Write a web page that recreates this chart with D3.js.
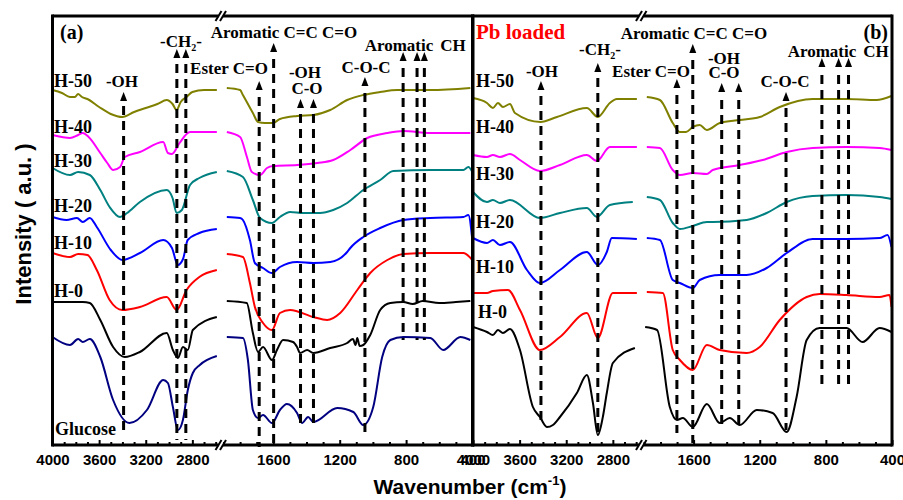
<!DOCTYPE html>
<html><head><meta charset="utf-8">
<script src="https://cdn.jsdelivr.net/npm/d3@7"></script>
<style>body{margin:0;background:#fff}svg{display:block}</style>
</head><body>
<svg id="c" width="903" height="500"></svg>
<script>
// ---------------- DATA (wavenumber cm-1, intensity a.u.) ----------------
const seriesNames = ["H-50","H-40","H-30","H-20","H-10","H-0","Glucose"];
const seriesColors = ["#808000","#ff00ff","#008080","#0000ff","#ff0000","#000000","#000080"];

const a_H50 = [[4000,355],[3919,352],[3850,348],[3807,348],[3781,351],[3747,348],[3700,346],[3600,338],[3500,331],[3400,328],[3300,333],[3200,337],[3100,341],[3020,345],[2970,341],[2935,335],[2900,343],[2850,348],[2800,353],[2700,355],[2590,355],
 [1880,357],[1800,355],[1783,350],[1723,332],[1692,323],[1650,322],[1602,322],[1560,326],[1457,329],[1359,330],[1257,335],[1155,345],[1058,350],[956,353],[853,355],[654,355],[413,357]];
const a_H40 = [[4000,310],[3920,308],[3850,307],[3780,310],[3740,312],[3690,308],[3590,292],[3530,282],[3480,275],[3420,278],[3380,288],[3250,293],[3050,303],[3010,292],[2975,291],[2910,302],[2820,313],[2590,313],
 [1880,313],[1800,308],[1759,288],[1729,273],[1680,270],[1638,277],[1602,279],[1457,280],[1335,282],[1239,285],[1136,295],[1034,307],[913,312],[817,314],[654,312],[413,312]];
const a_H30 = [[4000,277],[3850,270],[3780,273],[3680,270],[3590,255],[3510,238],[3420,228],[3360,232],[3250,243],[3020,255],[2970,247],[2935,232],[2890,235],[2820,260],[2740,267],[2590,273],
 [1880,274],[1783,268],[1723,245],[1680,227],[1608,222],[1560,228],[1499,233],[1421,232],[1319,232],[1239,235],[1155,242],[1058,255],[956,265],[877,274],[654,275],[455,275],[425,278],[401,273]];
const a_H20 = [[4000,228],[3880,225],[3790,227],[3740,223],[3680,227],[3620,218],[3500,195],[3400,185],[3250,192],[3050,205],[2975,197],[2925,180],[2880,186],[2840,205],[2740,212],[2590,216],
 [1880,228],[1800,227],[1783,225],[1741,205],[1711,182],[1662,177],[1608,172],[1560,178],[1457,183],[1359,182],[1257,183],[1155,193],[1136,197],[1058,208],[956,217],[817,225],[654,227],[455,228],[425,230],[401,205]];
const a_H10 = [[4000,192],[3850,188],[3780,191],[3700,190],[3620,175],[3510,145],[3400,135],[3250,138],[3020,148],[2935,135],[2850,155],[2740,168],[2590,175],
 [1880,191],[1783,188],[1741,162],[1711,138],[1662,122],[1608,115],[1560,132],[1499,135],[1359,128],[1276,125],[1197,132],[1094,155],[1016,172],[913,185],[817,191],[654,192],[455,192],[401,185]];
const a_H0 = [[4000,143],[3740,143],[3680,142],[3590,125],[3480,98],[3380,88],[3250,93],[3020,112],[2967,95],[2924,87],[2881,98],[2839,95],[2796,115],[2590,128],
 [1880,144],[1760,142],[1723,112],[1692,93],[1662,98],[1608,85],[1578,95],[1541,105],[1481,103],[1457,98],[1439,92],[1396,95],[1359,92],[1257,97],[1155,102],[1120,106],[1105,100],[1094,107],[1080,99],[1058,100],[1016,110],[956,135],[895,142],[817,143],[760,141],[700,144],[600,142],[500,143],[413,144]];
const a_Glu = [[4000,108],[3850,100],[3780,106],[3740,103],[3680,106],[3590,88],[3480,45],[3340,22],[3190,35],[3050,65],[3010,62],[2967,38],[2924,15],[2881,25],[2839,55],[2796,72],[2736,80],[2590,89],
 [1880,108],[1783,107],[1753,85],[1723,35],[1692,27],[1662,30],[1608,22],[1560,35],[1518,41],[1457,32],[1427,22],[1390,28],[1359,23],[1215,37],[1118,33],[1058,20],[998,38],[944,88],[895,105],[817,108],[654,107],[576,95],[473,108],[413,105]];

const b_H50 = [[4000,347],[3880,342],[3829,337],[3786,342],[3743,338],[3683,341],[3640,332],[3421,323],[3280,328],[3023,337],[2929,328],[2826,342],[2766,346],[2594,346],
 [1883,348],[1804,345],[1726,322],[1683,313],[1646,313],[1605,318],[1563,320],[1520,315],[1442,322],[1321,325],[1200,328],[1079,338],[880,346],[675,346],[494,345],[403,349]];
const b_H40 = [[4000,290],[3880,288],[3829,290],[3769,288],[3683,291],[3597,285],[3426,274],[3254,280],[3023,290],[2937,284],[2826,298],[2594,298],
 [1883,298],[1804,297],[1726,275],[1683,270],[1605,272],[1520,271],[1484,275],[1321,280],[1182,285],[1037,293],[880,297],[675,298],[475,297],[403,295]];
const b_H30 = [[4000,253],[3880,243],[3829,245],[3769,242],[3683,245],[3426,227],[3254,232],[3023,237],[2937,228],[2826,240],[2629,243],
 [1883,248],[1804,245],[1726,222],[1683,216],[1605,219],[1520,223],[1484,223],[1279,225],[1158,232],[1037,243],[880,249],[675,250],[475,248],[403,246]];
const b_H20 = [[4000,207],[3880,202],[3829,205],[3769,200],[3683,203],[3537,175],[3426,162],[3254,175],[3023,193],[2929,180],[2852,193],[2809,207],[2594,206],
 [1883,207],[1804,205],[1726,165],[1683,162],[1605,157],[1563,165],[1442,170],[1279,170],[1158,177],[1037,192],[880,206],[675,206],[475,207],[427,210],[403,198]];
const b_H10 = [[4000,152],[3880,152],[3829,154],[3700,155],[3597,135],[3426,95],[3254,108],[3023,132],[2929,107],[2800,152],[2594,152],
 [1883,153],[1786,152],[1726,95],[1683,85],[1605,75],[1520,100],[1442,95],[1279,92],[1200,98],[1079,125],[916,148],[838,151],[675,150],[475,148],[415,150],[403,138]];
const b_H0 = [[4000,118],[3880,113],[3829,110],[3786,115],[3743,112],[3683,116],[3597,95],[3486,38],[3426,28],[3366,18],[3314,20],[3254,28],[3109,52],[3023,70],[2971,42],[2929,10],[2886,28],[2852,52],[2800,82],[2611,97],
 [1893,118],[1821,115],[1744,38],[1701,25],[1665,27],[1605,18],[1520,41],[1442,22],[1381,27],[1321,20],[1218,35],[1122,32],[1037,13],[977,48],[916,105],[838,117],[675,117],[578,103],[475,117],[403,113]];

const panelA = [a_H50,a_H40,a_H30,a_H20,a_H10,a_H0,a_Glu];
const panelB = [b_H50,b_H40,b_H30,b_H20,b_H10,b_H0];

const majorTicksLeft = [4000,3600,3200,2800];
const majorTicksRight = [1600,1200,800,400];

const bandWnA = [[3390],[2933,2856],[1685],[1598],[1436,1358],[1048],[818,734,690]];
const bandWnB = [[3417],[2929],[1701],[1605],[1430,1327],[1041],[824,723,663]];

// ---------------- LAYOUT ----------------
const svg = d3.select("#c");
const yTop = 16, yBase = 445;
const y = d3.scaleLinear().domain([0,429]).range([yBase,yTop]);

const annA = [
 {tri:97, top:106, bot:435, texts:[{t:"-OH",x:122,y:87}]},
 {tri:54, top:64, bot:440, texts:[{t:"CH2",x:181,y:47}]},
 {tri:86, top:97, bot:447, texts:[{t:"Ester C=O",x:229,y:74}]},
 {tri:48, top:59, bot:445, texts:[{t:"Aromatic C=C C=O",x:284,y:38}]},
 {tri:104, top:114, bot:428, texts:[{t:"-OH",x:305,y:78},{t:"C-O",x:307,y:94}]},
 {tri:82, top:93, bot:433, texts:[{t:"C-O-C",x:366,y:73}]},
 {tri:57, top:68, bot:340, texts:[{t:"Aromatic",x:399,y:51},{t:"CH",x:453,y:51}]}
];
const annB = [
 {tri:86, top:96, bot:423, texts:[{t:"-OH",x:542,y:77}]},
 {tri:68, top:78, bot:432, texts:[{t:"CH2",x:600,y:55}]},
 {tri:84, top:95, bot:433, texts:[{t:"Ester C=O",x:651,y:77}]},
 {tri:49, top:60, bot:443, texts:[{t:"Aromatic C=C C=O",x:694,y:39}]},
 {tri:88, top:100, bot:425, texts:[{t:"-OH",x:724,y:64},{t:"C-O",x:724,y:78}]},
 {tri:97, top:108, bot:430, texts:[{t:"C-O-C",x:785,y:87}]},
 {tri:63, top:75, bot:385, texts:[{t:"Aromatic",x:822,y:57},{t:"CH",x:876,y:57}]}
];
const labelPosA = [[54,87],[54,133],[54,167],[54,212],[54,249],[54,297],[55,435]];
const labelPosB = [[476,87],[476,133],[476,180],[476,228],[476,273],[478,318]];

const serif = "'Liberation Serif','Times New Roman',serif";
const sans = "'Liberation Sans',Arial,sans-serif";

function drawPanel(x0, x1, data, names, labelPos, bandWn, ann){
  const xL = d3.scaleLinear().domain([4000,2580]).range([x0, x0+165.5]);
  const xR = d3.scaleLinear().domain([1900,400]).range([x0+171, x1]);
  const g = svg.append("g");
  data.forEach((s,i)=>{
    const left = s.filter(d=>d[0]>2000), right = s.filter(d=>d[0]<=2000);
    [[left,xL],[right,xR]].forEach(([pts,xs])=>{
      const line = d3.line().x(d=>xs(d[0])).y(d=>y(d[1])).curve(d3.curveMonotoneX);
      g.append("path").attr("d",line(pts)).attr("fill","none")
        .attr("stroke",seriesColors[i]).attr("stroke-width",2).attr("stroke-linejoin","round");
    });
  });
  names.forEach((n,i)=>{
    g.append("text").attr("x",labelPos[i][0]).attr("y",labelPos[i][1]).text(n)
      .attr("font-family",serif).attr("font-weight","bold").attr("font-size",18).attr("fill","#000");
  });
  bandWn.forEach((wns,j)=>{
    const L = ann[j];
    wns.forEach(w=>{
      const xs = w>2000 ? xL : xR;
      const px = xs(w);
      g.append("line").attr("x1",px).attr("x2",px).attr("y1",L.top).attr("y2",L.bot)
        .attr("stroke","#000").attr("stroke-width",3).attr("stroke-dasharray","9,6");
      g.append("path").attr("d",`M${px},${L.tri-5}L${px-3.5},${L.tri+4}L${px+3.5},${L.tri+4}Z`).attr("fill","#000");
    });
    L.texts.forEach(T=>{
      const t = g.append("text").attr("x",T.x).attr("y",T.y).attr("text-anchor","middle")
        .attr("font-family",serif).attr("font-weight","bold").attr("font-size",17).attr("fill","#000");
      if(T.t==="CH2"){
        t.append("tspan").text("-CH");
        t.append("tspan").text("2").attr("font-size",10).attr("dy",4);
        t.append("tspan").text("-").attr("dy",-4);
      } else t.text(T.t);
    });
  });
  const mk = (xs, vals, size, labels)=>{
    const ax = d3.axisBottom(xs).tickValues(vals).tickSize(size).tickSizeOuter(0).tickPadding(9)
      .tickFormat(labels ? d3.format("d") : "");
    const ga = g.append("g").attr("transform",`translate(0,${yBase})`).call(ax);
    ga.select(".domain").remove();
    ga.attr("font-family",sans).attr("font-size",15).attr("font-weight","bold");
    ga.selectAll("line").attr("stroke-width",2);
    ga.selectAll("text").attr("fill","#000");
  };
  mk(xL, majorTicksLeft, -5, true);
  mk(xL, d3.range(3900,2599,-100).filter(v=>v%400!==0), -3, false);
  mk(xR, majorTicksRight, -5, true);
  mk(xR, d3.range(1900,400,-100).filter(v=>v%400!==0), -3, false);
  const bx1 = x0+166, bx2 = x0+170.5;
  const fr = g.append("g").attr("stroke","#000").attr("stroke-width",3).attr("fill","none");
  fr.append("path").attr("d",`M${x0},${yTop}H${bx1}M${bx2},${yTop}H${x1}`);
  fr.append("path").attr("d",`M${x0},${yBase}H${bx1}M${bx2},${yBase}H${x1}`);
  fr.append("line").attr("x1",x0).attr("x2",x0).attr("y1",yTop-1.5).attr("y2",yBase+1.5);
  fr.append("line").attr("x1",x1).attr("x2",x1).attr("y1",yTop-1.5).attr("y2",yBase+1.5);
  [yTop,yBase].forEach(yy=>{
    [bx1,bx2].forEach(bx=>{
      g.append("line").attr("x1",bx-3).attr("x2",bx+3).attr("y1",yy+5).attr("y2",yy-5)
        .attr("stroke","#000").attr("stroke-width",2);
    });
  });
}

drawPanel(52.5, 472.5, panelA, seriesNames, labelPosA, bandWnA, annA);
drawPanel(473, 892, panelB, seriesNames.slice(0,6), labelPosB, bandWnB, annB);

svg.append("text").attr("x",60).attr("y",39).text("(a)")
  .attr("font-family",serif).attr("font-weight","bold").attr("font-size",20);
svg.append("text").attr("x",888).attr("y",39).attr("text-anchor","end").text("(b)")
  .attr("font-family",serif).attr("font-weight","bold").attr("font-size",20);
svg.append("text").attr("x",476).attr("y",39).text("Pb loaded").attr("fill","#ff0000")
  .attr("font-family",serif).attr("font-weight","bold").attr("font-size",21);

const xt = svg.append("text").attr("x",470).attr("y",494).attr("text-anchor","middle")
  .attr("font-family",sans).attr("font-weight","bold").attr("font-size",21);
xt.append("tspan").text("Wavenumber (cm");
xt.append("tspan").text("-1").attr("font-size",13).attr("dy",-9);
xt.append("tspan").text(")").attr("dy",9);
svg.append("text").attr("transform","translate(31,224) rotate(-90)").attr("text-anchor","middle")
  .attr("font-family",sans).attr("font-weight","bold").attr("font-size",22).text("Intensity ( a.u. )");
</script></body></html>
